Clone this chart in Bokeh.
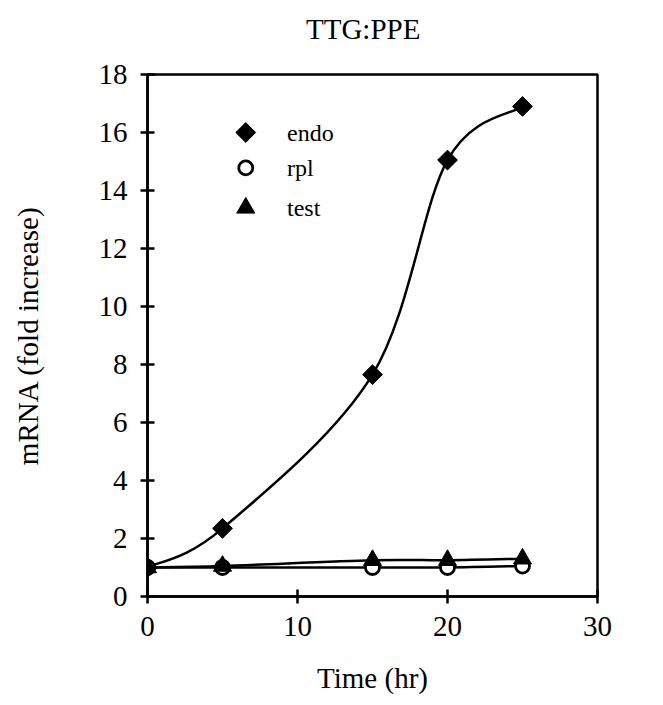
import numpy as np
from bokeh.plotting import figure
from bokeh.models import Range1d, FixedTicker, Div
from bokeh.layouts import column
from bokeh.core.properties import value
from bokeh.embed import file_html
from bokeh.resources import INLINE

time_hr = [0, 5, 15, 20, 25]
endo = [1.0, 2.35, 7.65, 15.05, 16.9]
rpl = [1.0, 1.0, 1.0, 1.0, 1.05]
test = [1.0, 1.05, 1.25, 1.25, 1.3]
x_ticks = [0, 10, 20, 30]
y_ticks = [0, 2, 4, 6, 8, 10, 12, 14, 16, 18]
series_names = ["endo", "rpl", "test"]
title_text = "TTG:PPE"

FONT = "Liberation Serif"
LBL = "29px"

title_div = Div(text=title_text, width=647, height=52, margin=0,
                styles={"font-family": FONT, "font-size": "29px", "color": "black",
                        "line-height": "58px", "text-align": "left", "padding-left": "306px",
                        "white-space": "nowrap"})

p = figure(width=647, height=648, output_backend="svg", toolbar_location=None,
           x_range=Range1d(0, 30), y_range=Range1d(0, 18),
           min_border_left=147, min_border_right=50, min_border_top=22, min_border_bottom=104)

p.grid.visible = False
p.outline_line_color = "black"
p.outline_line_width = 2.5
p.background_fill_color = "white"
p.border_fill_color = "white"

for ax in (p.xaxis[0], p.yaxis[0]):
    ax.axis_line_width = 2.5
    ax.axis_line_color = "black"
    ax.major_tick_line_width = 2.5
    ax.major_tick_line_color = "black"
    ax.major_tick_in = 7
    ax.major_tick_out = 7
    ax.minor_tick_line_color = None
    ax.major_label_text_font = FONT
    ax.major_label_text_font_size = LBL
    ax.major_label_text_color = "black"
    ax.axis_label_text_font = FONT
    ax.axis_label_text_font_size = LBL
    ax.axis_label_text_font_style = "normal"
    ax.axis_label_text_color = "black"

p.xaxis.ticker = FixedTicker(ticks=x_ticks)
p.yaxis.ticker = FixedTicker(ticks=y_ticks)
p.xaxis.axis_label = "Time (hr)"
p.yaxis.axis_label = "mRNA (fold increase)"
p.xaxis.major_label_standoff = 13
p.yaxis.major_label_standoff = 13
p.xaxis.axis_label_standoff = 23
p.yaxis.axis_label_standoff = 52


def smooth(xs, ys):
    pts = list(zip(xs, ys))
    n = len(pts)
    seg = dict(x0=[], y0=[], x1=[], y1=[], cx0=[], cy0=[], cx1=[], cy1=[])
    for i in range(n - 1):
        pm = pts[i - 1] if i > 0 else pts[i]
        p0 = pts[i]
        p1 = pts[i + 1]
        p2 = pts[i + 2] if i + 2 < n else pts[i + 1]
        seg["x0"].append(p0[0]); seg["y0"].append(p0[1])
        seg["x1"].append(p1[0]); seg["y1"].append(p1[1])
        seg["cx0"].append(p0[0] + (p1[0] - pm[0]) / 6)
        seg["cy0"].append(p0[1] + (p1[1] - pm[1]) / 6)
        seg["cx1"].append(p1[0] - (p2[0] - p0[0]) / 6)
        seg["cy1"].append(p1[1] - (p2[1] - p0[1]) / 6)
    return seg


for ys in (endo, rpl, test):
    p.bezier(line_color="black", line_width=2.5, **smooth(time_hr, ys))

styles = {
    "endo": dict(marker="square", angle=np.pi / 4, size=14, fill_color="black", line_color="black", line_width=1),
    "rpl": dict(marker="circle", angle=0.0, size=14, fill_color="white", line_color="black", line_width=2.8),
    "test": dict(marker="triangle", angle=0.0, size=18, fill_color="black", line_color="black", line_width=1),
}

for name, ys in zip(series_names, (endo, rpl, test)):
    p.scatter(time_hr, ys, **styles[name])

# manual legend (markers only, no lines), placed in the upper-left of the frame
LEG_MX, LEG_TX = 6.55, 9.3
LEG_Y = [16.0, 14.78, 13.4]
for name, ly in zip(series_names, LEG_Y):
    p.scatter([LEG_MX], [ly], **styles[name])
p.text(x=[LEG_TX] * 3, y=LEG_Y, text=series_names, text_font=value(FONT),
       text_font_size="24px", text_baseline="middle", text_align="left", text_color="black")

layout = column(title_div, p, spacing=0)
open("out.html", "w").write(file_html(layout, INLINE))
